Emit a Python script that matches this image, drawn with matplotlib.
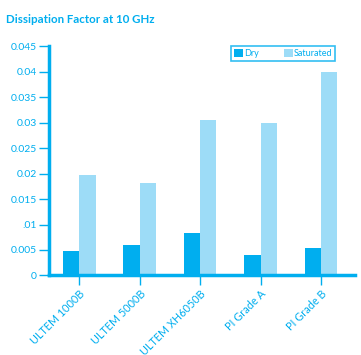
import numpy as np
import matplotlib.pyplot as plt

BLUE = '#00AEEF'
LIGHT = '#9DDCF7'

materials = ['ULTEM 1000B', 'ULTEM 5000B', 'ULTEM XH6050B', 'PI Grade A', 'PI Grade B']
dry = [0.0049, 0.0059, 0.0083, 0.0041, 0.0053]
saturated = [0.0198, 0.0181, 0.0306, 0.0299, 0.0399]
yticks = [0, 0.005, 0.01, 0.015, 0.02, 0.025, 0.03, 0.035, 0.04, 0.045]
ytick_labels = ['0', '0.005', '.01', '0.015', '0.02', '0.025', '0.03', '0.035', '0.04', '0.045']

plt.rcParams['font.family'] = ['Lato', 'DejaVu Sans']

fig = plt.figure(figsize=(3.61, 3.55), dpi=100)
ax = fig.add_axes([0.136, 0.224, 0.847, 0.646])

x = np.arange(len(materials))
w = 0.27
ax.bar(x - w / 2, dry, w, color=BLUE, label='Dry')
ax.bar(x + w / 2, saturated, w, color=LIGHT, label='Saturated')

ax.set_xlim(-0.5, 4.56)
ax.set_ylim(0, 0.045)
ax.set_yticks(yticks)
ax.set_yticklabels(ytick_labels)
ax.set_xticks(x)
ax.set_xticklabels(materials, rotation=45, ha='right', rotation_mode='anchor')

for s in ['top', 'right']:
    ax.spines[s].set_visible(False)
for s in ['left', 'bottom']:
    ax.spines[s].set_color(BLUE)
    ax.spines[s].set_linewidth(2.5)
ax.tick_params(axis='y', colors=BLUE, length=7, width=1, labelsize=7.5, pad=2)
ax.tick_params(axis='x', colors=BLUE, length=7, width=1, labelsize=7.8, pad=2)

leg = ax.legend(loc='upper right', ncol=2, fontsize=6.5, frameon=True, fancybox=False,
                handlelength=1.0, handleheight=1.0, handletextpad=0.1, columnspacing=2.8,
                borderpad=0.3, bbox_to_anchor=(0.95, 1.02))
leg.get_frame().set_edgecolor(BLUE)
leg.get_frame().set_linewidth(1.2)
for t in leg.get_texts():
    t.set_color(BLUE)

fig.text(0.017, 0.945, 'Dissipation Factor at 10 GHz', color=BLUE, fontsize=8.3,
         fontweight='bold', va='center', ha='left')

fig.savefig('out.png', dpi=100)
